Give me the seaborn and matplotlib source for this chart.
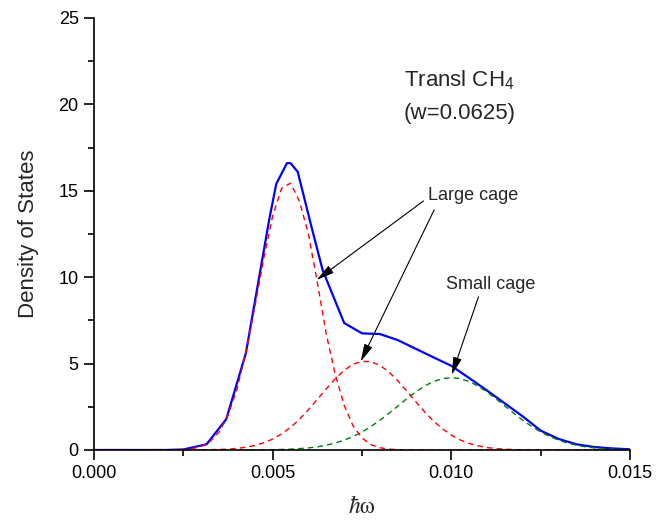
import numpy as np
import pandas as pd
import matplotlib
matplotlib.use("Agg")
import matplotlib.pyplot as plt
import seaborn as sns
from matplotlib.ticker import MultipleLocator

# ---- data ----
total_x = [0.0, 0.001, 0.002, 0.0025, 0.00315, 0.0037, 0.00425, 0.0049, 0.0051, 0.0054,
           0.0055, 0.0057, 0.0061, 0.0064, 0.0070, 0.0075, 0.0080, 0.0085, 0.0090, 0.0095,
           0.0100, 0.0105, 0.0110, 0.0115, 0.0120, 0.0125, 0.0130, 0.0135, 0.0140, 0.0145, 0.0150]
total_y = [0.0, 0.0, 0.0, 0.03, 0.33, 1.78, 5.6, 13.3, 15.4, 16.6,
           16.6, 16.1, 12.8, 10.4, 7.35, 6.75, 6.71, 6.36, 5.86, 5.36,
           4.87, 4.16, 3.44, 2.69, 1.94, 1.12, 0.64, 0.33, 0.17, 0.09, 0.04]

comp_x = [0.0, 0.001, 0.002,
          0.0025, 0.00275, 0.003, 0.00325, 0.0035, 0.00375, 0.004, 0.00425, 0.0045, 0.00475,
          0.005, 0.00525, 0.0055, 0.00575, 0.006, 0.00625, 0.0065, 0.00675, 0.007, 0.00725,
          0.0075, 0.00775, 0.008, 0.00825, 0.0085, 0.00875, 0.009, 0.00925, 0.0095, 0.00975,
          0.010, 0.01025, 0.0105, 0.01075, 0.011, 0.01125, 0.0115, 0.01175, 0.012, 0.01225,
          0.0125, 0.01275, 0.013, 0.01325, 0.0135, 0.01375, 0.014, 0.01425, 0.0145, 0.01475, 0.015]
large1_y = [0.0, 0.0, 0.0,
            0.03, 0.08, 0.21, 0.49, 1.04, 2.0, 3.51, 5.64, 8.27, 11.08,
            13.55, 15.14, 15.44, 14.39, 12.5, 9.7, 6.7, 4.38, 2.59, 1.40,
            0.69, 0.31, 0.13, 0.05, 0.02, 0.01, 0.0, 0.0, 0.0, 0.0,
            0.0, 0.0, 0.0, 0.0, 0.0, 0.0, 0.0, 0.0, 0.0, 0.0,
            0.0, 0.0, 0.0, 0.0, 0.0, 0.0, 0.0, 0.0, 0.0, 0.0, 0.0]
large2_y = [0.0, 0.0, 0.0,
            0.0, 0.0, 0.01, 0.02, 0.03, 0.05, 0.09, 0.16, 0.26, 0.42,
            0.63, 0.93, 1.31, 1.78, 2.33, 2.93, 3.54, 4.12, 4.61, 4.96,
            5.13, 5.11, 4.90, 4.52, 4.01, 3.42, 2.81, 2.21, 1.68, 1.23,
            0.86, 0.58, 0.38, 0.24, 0.14, 0.08, 0.05, 0.02, 0.01, 0.0,
            0.0, 0.0, 0.0, 0.0, 0.0, 0.0, 0.0, 0.0, 0.0, 0.0, 0.0]
small_y = [0.0, 0.0, 0.0,
           0.0, 0.0, 0.0, 0.0, 0.0, 0.0, 0.0, 0.0, 0.01, 0.01,
           0.02, 0.03, 0.05, 0.08, 0.12, 0.18, 0.28, 0.40, 0.57, 0.78,
           1.04, 1.36, 1.72, 2.12, 2.54, 2.96, 3.35, 3.70, 3.96, 4.13,
           4.19, 4.13, 3.96, 3.70, 3.35, 2.96, 2.54, 2.12, 1.72, 1.36,
           1.04, 0.78, 0.57, 0.40, 0.28, 0.18, 0.12, 0.08, 0.05, 0.03, 0.02]

x_ticks = [0.000, 0.005, 0.010, 0.015]
x_tick_labels = ["0.000", "0.005", "0.010", "0.015"]
y_ticks = [0, 5, 10, 15, 20, 25]

sns.set_theme(style="ticks")
plt.rcParams["font.family"] = ["Liberation Sans", "DejaVu Sans"]
plt.rcParams["mathtext.fontset"] = "custom"
plt.rcParams["mathtext.rm"] = "Liberation Sans"
plt.rcParams["mathtext.it"] = "Liberation Sans"
plt.rcParams["mathtext.default"] = "regular"

fig = plt.figure(figsize=(6.56, 5.23), dpi=100)
ax = fig.add_axes([0.1433, 0.1396, 0.8171, 0.826])

df_total = pd.DataFrame({"x": total_x, "y": total_y})
df_comp = pd.DataFrame({"x": comp_x, "l1": large1_y, "l2": large2_y, "s": small_y})

sns.lineplot(data=df_total, x="x", y="y", ax=ax, color="#0000ff", lw=1.6,
             estimator=None, sort=False)
sns.lineplot(data=df_comp, x="x", y="s", ax=ax, color="#008000", lw=1.0,
             linestyle=(0, (4, 3)), estimator=None, sort=False)
sns.lineplot(data=df_comp, x="x", y="l2", ax=ax, color="#ff0000", lw=1.0,
             linestyle=(0, (4, 3)), estimator=None, sort=False)
sns.lineplot(data=df_comp, x="x", y="l1", ax=ax, color="#ff0000", lw=1.0,
             linestyle=(0, (4, 3)), estimator=None, sort=False)

ax.set_xlim(0, 0.015)
ax.set_ylim(0, 25)
ax.set_xticks(x_ticks)
ax.set_xticklabels(x_tick_labels)
ax.set_yticks(y_ticks)
ax.xaxis.set_minor_locator(MultipleLocator(0.0025))
ax.yaxis.set_minor_locator(MultipleLocator(2.5))
ax.tick_params(axis="both", which="major", direction="out", length=7, width=1.2,
               labelsize=13, color="black", labelcolor="black", pad=4)
ax.tick_params(axis="both", which="minor", direction="out", length=4, width=1.2, color="black")
for side in ["top", "right"]:
    ax.spines[side].set_visible(False)
for side in ["left", "bottom"]:
    ax.spines[side].set_linewidth(1.2)
    ax.spines[side].set_color("black")

ax.set_ylabel("Density of States", fontsize=16, labelpad=14)
ax.set_xlabel(r"$\mathit{\hbar}\mathrm{\omega}$", fontsize=17, labelpad=10,
              math_fontfamily="stix")

ax.text(0.01022, 21.4, "Transl CH$_4$", fontsize=16, ha="center", va="center")
ax.text(0.01022, 19.5, "(w=0.0625)", fontsize=16, ha="center", va="center")

ax.text(0.0106, 14.7, "Large cage", fontsize=13, ha="center", va="center")
ax.text(0.01111, 9.55, "Small cage", fontsize=13, ha="center", va="center")

arrow = dict(arrowstyle="-|>,head_length=0.9,head_width=0.22", color="black",
             lw=0.8, shrinkA=0, shrinkB=0)
ax.annotate("", xy=(0.00623, 9.84), xytext=(0.00922, 14.41), arrowprops=arrow)
ax.annotate("", xy=(0.00746, 5.11), xytext=(0.00952, 13.9), arrowprops=arrow)
ax.annotate("", xy=(0.01001, 4.34), xytext=(0.01076, 8.87), arrowprops=arrow)

fig.savefig("out.png", dpi=100)
